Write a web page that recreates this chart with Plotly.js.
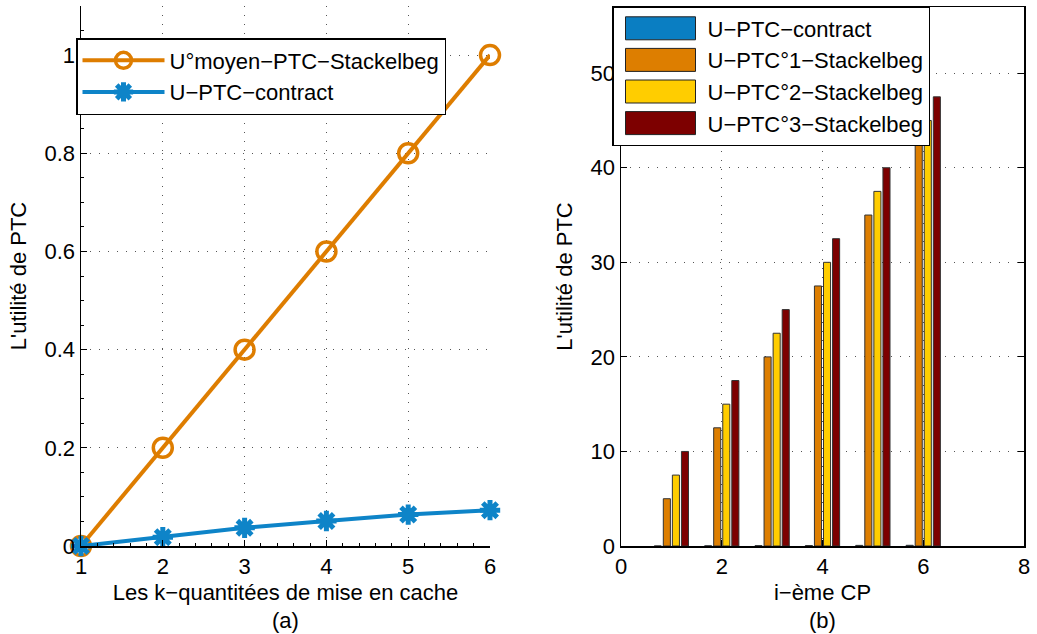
<!DOCTYPE html>
<html>
<head>
<meta charset="utf-8">
<script src="https://cdn.plot.ly/plotly-3.0.1.min.js"></script>
<style>html,body{margin:0;padding:0;background:#fff;}#chart{width:1037px;height:634px;}</style>
</head>
<body>
<div id="chart"></div>
<script>
// ---- Data (left panel a) ----
const kValues = [1, 2, 3, 4, 5, 6];
const stackelbergMean = [0, 0.2, 0.4, 0.6, 0.8, 1.0];
const contractLeft = [0, 0.018, 0.037, 0.051, 0.064, 0.073];

// ---- Data (right panel b) ----
const cpIndex = [1, 2, 3, 4, 5, 6];
const contractRight = [0, 0.018, 0.037, 0.051, 0.064, 0.073];
const stackelberg1 = [5, 12.5, 20, 27.5, 35, 42.5];
const stackelberg2 = [7.5, 15, 22.5, 30, 37.5, 45];
const stackelberg3 = [10, 17.5, 25, 32.5, 40, 47.5];

const leftTicksX = [1, 2, 3, 4, 5, 6];
const leftTicksY = [0, 0.2, 0.4, 0.6, 0.8, 1];
const rightTicksX = [0, 2, 4, 6, 8];
const rightTicksY = [0, 10, 20, 30, 40, 50];

const FONT = 'Liberation Sans, Arial, Helvetica, sans-serif';
const FS = 22;
const ORANGE = '#DE7D00', BLUE = '#0E84C8';

const traces = [
  {x: kValues, y: stackelbergMean, name: 'U°moyen−PTC−Stackelbeg', type: 'scatter', mode: 'lines+markers',
   xaxis: 'x', yaxis: 'y', legend: 'legend', legendgroup: 'a1', cliponaxis: false,
   line: {color: ORANGE, width: 4},
   marker: {symbol: 'circle-open', size: 19, color: ORANGE, line: {width: 3.5, color: ORANGE}}},
  {x: kValues, y: contractLeft, name: 'U−PTC−contract', type: 'scatter', mode: 'lines+markers',
   xaxis: 'x', yaxis: 'y', legend: 'legend', legendgroup: 'a2', cliponaxis: false,
   line: {color: BLUE, width: 4},
   marker: {symbol: 'asterisk-open', size: 17, color: BLUE, line: {width: 5, color: BLUE}}},
  {x: cpIndex, y: contractRight, name: 'U−PTC−contract', type: 'bar', xaxis: 'x2', yaxis: 'y2',
   legend: 'legend2', legendgroup: 'b1',
   marker: {color: '#0A7EC2', line: {color: '#333', width: 1}}},
  {x: cpIndex, y: stackelberg1, name: 'U−PTC°1−Stackelbeg', type: 'bar', xaxis: 'x2', yaxis: 'y2',
   legend: 'legend2', legendgroup: 'b2',
   marker: {color: '#DD7E00', line: {color: '#333', width: 1}}},
  {x: cpIndex, y: stackelberg2, name: 'U−PTC°2−Stackelbeg', type: 'bar', xaxis: 'x2', yaxis: 'y2',
   legend: 'legend2', legendgroup: 'b3',
   marker: {color: '#FFCD00', line: {color: '#333', width: 1}}},
  {x: cpIndex, y: stackelberg3, name: 'U−PTC°3−Stackelbeg', type: 'bar', xaxis: 'x2', yaxis: 'y2',
   legend: 'legend2', legendgroup: 'b4',
   marker: {color: '#7D0000', line: {color: '#333', width: 1}}}
];

const W = 1037, H = 634;
const yBot = 1 - 546 / H;

const common = {
  tickfont: {family: FONT, size: FS, color: '#000'},
  ticks: 'inside', ticklen: 6, tickcolor: '#000',
  showline: true, linecolor: '#000', linewidth: 1.5,
  showgrid: true, gridcolor: '#555', griddash: '1px,8px', gridwidth: 1,
  zeroline: false, fixedrange: true
};

const layout = {
  width: W, height: H,
  margin: {l: 0, r: 0, t: 0, b: 0},
  paper_bgcolor: '#fff', plot_bgcolor: '#fff',
  font: {family: FONT, size: FS, color: '#000'},
  barmode: 'group', bargap: 0.28, bargroupgap: 0.22,
  xaxis: Object.assign({}, common, {
    domain: [81 / W, 490 / W], anchor: 'y', range: [1, 6], tickvals: leftTicksX,
    minor: {ticks: 'inside', ticklen: 3, dtick: 0.2, tickcolor: '#000', showgrid: false},
    title: {text: 'Les k−quantitées de mise en cache', font: {family: FONT, size: FS}, standoff: 6}
  }),
  yaxis: Object.assign({}, common, {
    domain: [yBot, 1 - 6 / H], anchor: 'x', range: [0, 1.1], tickvals: leftTicksY,
    minor: {ticks: 'inside', ticklen: 3, dtick: 0.05, tickcolor: '#000', showgrid: false},
    title: {text: 'L\'utilité de PTC', font: {family: FONT, size: FS}, standoff: 12}
  }),
  xaxis2: Object.assign({}, common, {
    domain: [621 / W, 1024 / W], anchor: 'y2', range: [0, 8], tickvals: rightTicksX, mirror: 'ticks',
    title: {text: 'i−ème CP', font: {family: FONT, size: FS}, standoff: 6}
  }),
  yaxis2: Object.assign({}, common, {
    domain: [yBot, 1 - 7 / H], anchor: 'x2', range: [0, 57], tickvals: rightTicksY, mirror: 'ticks',
    title: {text: 'L\'utilité de PTC', font: {family: FONT, size: FS}, standoff: 12}
  }),
  legend: {
    x: 76 / W, y: 1 - 38 / H, xanchor: 'left', yanchor: 'top',
    bgcolor: '#fff', bordercolor: '#000', borderwidth: 1.5,
    font: {family: FONT, size: FS, color: '#000'}, itemwidth: 82, tracegroupgap: 0
  },
  legend2: {
    x: 612 / W, y: 1 - 6 / H, xanchor: 'left', yanchor: 'top',
    bgcolor: '#fff', bordercolor: '#000', borderwidth: 1.5,
    font: {family: FONT, size: FS, color: '#000'}, itemwidth: 84, tracegroupgap: 0
  },
  annotations: [
    {text: '(a)', xref: 'paper', yref: 'paper', x: 285 / W, y: 1 - 620 / H, showarrow: false,
     font: {family: FONT, size: FS}, xanchor: 'center', yanchor: 'middle'},
    {text: '(b)', xref: 'paper', yref: 'paper', x: 822 / W, y: 1 - 620 / H, showarrow: false,
     font: {family: FONT, size: FS}, xanchor: 'center', yanchor: 'middle'}
  ]
};

Plotly.newPlot('chart', traces, layout, {displayModeBar: false, staticPlot: true}).then(function (gd) {
  // Widen bar legend swatches to MATLAB-style rectangles
  gd.querySelectorAll('.legend2 .legendpoints path').forEach(function (p) {
    p.setAttribute('d', 'M35,11.5H-35V-11.5H35Z');
    p.style.strokeWidth = '1px';
    p.style.stroke = '#222';
  });
});
</script>
</body>
</html>
